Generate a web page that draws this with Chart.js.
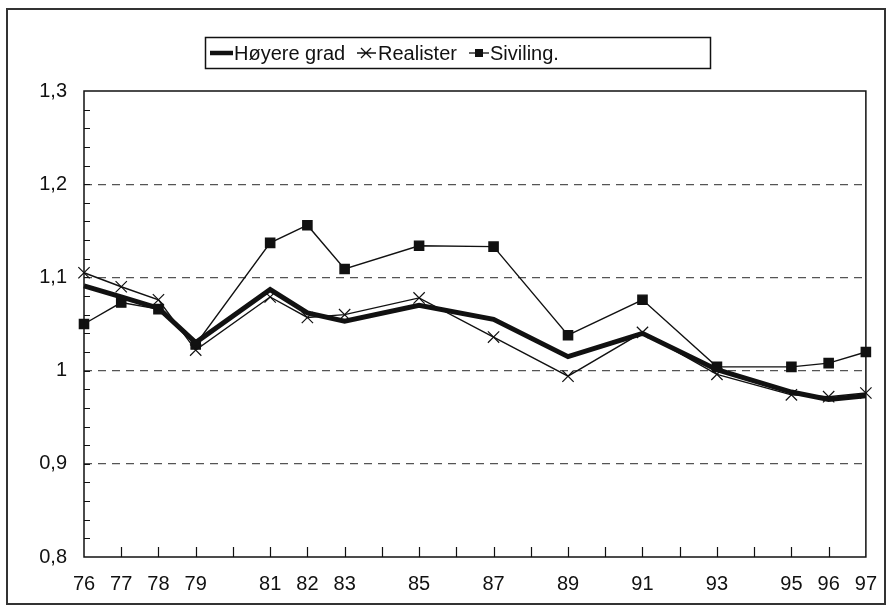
<!DOCTYPE html>
<html lang="en">
<head>
<meta charset="UTF-8">
<title>Høyere grad, realister, siviling.</title>
<script src="https://cdn.jsdelivr.net/npm/chart.js"></script>
<style>
    html, body { margin: 0; padding: 0; background: #fff; }
    #wrap { position: relative; width: 892px; height: 611px; }
</style>
</head>
<body>
<div id="wrap"><canvas id="chart" width="892" height="611"></canvas></div>
<script>
    // Data
    const years = [76, 77, 78, 79, 81, 82, 83, 85, 87, 89, 91, 93, 95, 96, 97];
    const hoyereGrad = [1.091, 1.079, 1.067, 1.030, 1.087, 1.062, 1.053, 1.070, 1.055, 1.015, 1.040, 1.001, 0.977, 0.969, 0.973];
    const realister  = [1.105, 1.090, 1.076, 1.022, 1.079, 1.057, 1.060, 1.078, 1.036, 0.994, 1.041, 0.996, 0.974, 0.972, 0.976];
    const siviling   = [1.050, 1.073, 1.066, 1.028, 1.137, 1.156, 1.109, 1.134, 1.133, 1.038, 1.076, 1.004, 1.004, 1.008, 1.020];
    const seriesNames = ['Høyere grad', 'Realister', 'Siviling.'];
    const yTicks = [0.8, 0.9, 1.0, 1.1, 1.2, 1.3];

    const FONT = '"Liberation Sans", Arial, sans-serif';
    const pts = arr => years.map((y, i) => ({ x: y, y: arr[i] }));

    // inward tick marks, plot frame, outer frame and boxed legend
    const decorations = {
        id: 'decorations',
        afterDraw(chart) {
            const ctx = chart.ctx;
            const a = chart.chartArea;
            const xs = chart.scales.x, ys = chart.scales.y;
            ctx.save();
            ctx.strokeStyle = '#111';
            ctx.lineWidth = 1.2;
            ctx.beginPath();
            for (let yr = 77; yr < 97; yr++) {
                const px = Math.round(xs.getPixelForValue(yr)) + 0.5;
                ctx.moveTo(px, a.bottom);
                ctx.lineTo(px, a.bottom - 10);
            }
            for (let v = 0.82; v < 1.299; v += 0.02) {
                const py = Math.round(ys.getPixelForValue(v)) + 0.5;
                ctx.moveTo(a.left, py);
                ctx.lineTo(a.left + 6, py);
            }
            ctx.stroke();

            ctx.lineWidth = 1.5;
            ctx.strokeRect(a.left, a.top, a.right - a.left, a.bottom - a.top);

            // outer frame
            ctx.lineWidth = 2;
            ctx.strokeStyle = '#333';
            ctx.strokeRect(7, 9, 878, 595);

            // legend box
            ctx.strokeStyle = '#111';
            ctx.lineWidth = 1.5;
            ctx.strokeRect(205.5, 37.5, 505, 31);
            const ly = 53;
            ctx.fillStyle = '#111';
            ctx.font = '20px ' + FONT;
            ctx.textBaseline = 'middle';

            ctx.lineWidth = 4.5;
            ctx.beginPath(); ctx.moveTo(210, ly); ctx.lineTo(233, ly); ctx.stroke();
            ctx.fillText(seriesNames[0], 234, ly + 1);

            ctx.lineWidth = 1.3;
            ctx.beginPath();
            ctx.moveTo(357, ly); ctx.lineTo(376, ly);
            ctx.moveTo(361, ly - 5); ctx.lineTo(371, ly + 5);
            ctx.moveTo(371, ly - 5); ctx.lineTo(361, ly + 5);
            ctx.stroke();
            ctx.fillText(seriesNames[1], 378, ly + 1);

            ctx.beginPath(); ctx.moveTo(469, ly); ctx.lineTo(489, ly); ctx.stroke();
            ctx.fillRect(475, ly - 4, 8, 8);
            ctx.fillText(seriesNames[2], 490, ly + 1);
            ctx.restore();
        }
    };

    new Chart(document.getElementById('chart'), {
        type: 'line',
        data: {
            datasets: [
                {
                    label: seriesNames[0],
                    data: pts(hoyereGrad),
                    borderColor: '#111',
                    borderWidth: 5,
                    pointRadius: 0,
                    tension: 0,
                    clip: false,
                    order: 1
                },
                {
                    label: seriesNames[1],
                    data: pts(realister),
                    borderColor: '#111',
                    borderWidth: 1.4,
                    pointStyle: 'crossRot',
                    pointRadius: 8,
                    pointBorderWidth: 1.2,
                    pointBorderColor: '#111',
                    tension: 0,
                    clip: false,
                    order: 2
                },
                {
                    label: seriesNames[2],
                    data: pts(siviling),
                    borderColor: '#111',
                    borderWidth: 1.4,
                    pointStyle: 'rect',
                    pointRadius: 6.5,
                    pointBackgroundColor: '#111',
                    pointBorderColor: '#111',
                    tension: 0,
                    clip: false,
                    order: 3
                }
            ]
        },
        options: {
            responsive: false,
            animation: false,
            layout: { padding: { top: 91, right: 26, left: 0, bottom: 0 } },
            plugins: {
                legend: { display: false },
                tooltip: { enabled: false }
            },
            scales: {
                x: {
                    type: 'linear',
                    min: 76,
                    max: 97,
                    afterFit: s => { s.height = 54; },
                    afterBuildTicks: s => { s.ticks = years.map(v => ({ value: v })); },
                    ticks: {
                        color: '#111',
                        font: { family: FONT, size: 20 },
                        padding: 15,
                        autoSkip: false,
                        maxRotation: 0,
                        callback: v => String(v)
                    },
                    grid: { display: false, drawTicks: false },
                    border: { display: false }
                },
                y: {
                    min: 0.8,
                    max: 1.3,
                    afterFit: s => { s.width = 84; },
                    afterBuildTicks: s => { s.ticks = yTicks.map(v => ({ value: v })); },
                    ticks: {
                        color: '#111',
                        font: { family: FONT, size: 20 },
                        padding: 17,
                        callback: v => String(Math.round(v * 10) / 10).replace('.', ',')
                    },
                    grid: {
                        drawTicks: false,
                        lineWidth: 1.3,
                        color: c => (c.tick && (Math.abs(c.tick.value - 0.8) < 1e-6 || Math.abs(c.tick.value - 1.3) < 1e-6)) ? 'rgba(0,0,0,0)' : '#555'
                    },
                    border: { display: false, dash: [8, 6] }
                }
            }
        },
        plugins: [decorations]
    });
</script>
</body>
</html>
